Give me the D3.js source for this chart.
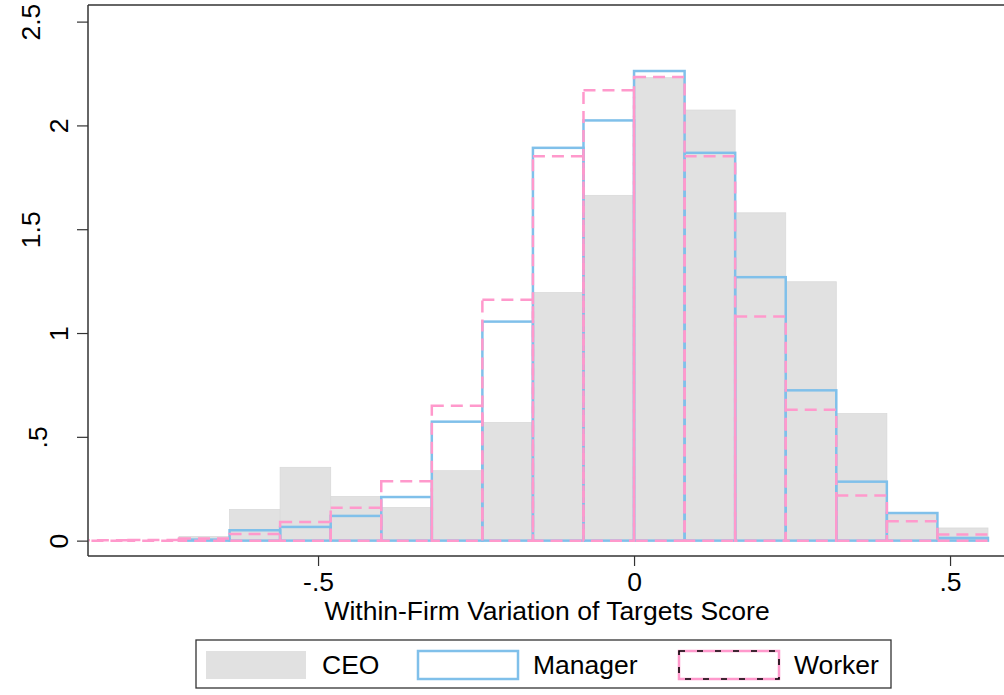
<!DOCTYPE html>
<html>
<head>
<meta charset="utf-8">
<script src="https://cdn.jsdelivr.net/npm/d3@7"></script>
<style>
  html, body { margin: 0; padding: 0; background: #fff; }
  text { font-family: "Liberation Sans", Arial, Helvetica, sans-serif; fill: #000; }
</style>
</head>
<body>
<svg id="chart" width="1004" height="695"></svg>
<script>
// ---- data ----
const binEdges = [-0.88, -0.80, -0.72, -0.64, -0.56, -0.48, -0.40, -0.32, -0.24, -0.16,
                  -0.08, 0.00, 0.08, 0.16, 0.24, 0.32, 0.40, 0.48, 0.56];
const ceoDensity = [0, 0, 0.02, 0.15, 0.353, 0.213, 0.16, 0.337, 0.569, 1.195,
                    1.663, 2.23, 2.074, 1.579, 1.247, 0.612, 0.125, 0.061];
const managerDensity = [0, 0, 0.005, 0.05, 0.066, 0.119, 0.21, 0.573, 1.055, 1.892,
                        2.024, 2.262, 1.868, 1.269, 0.724, 0.284, 0.133, 0.013];
const workerDensity = [0.002, 0.003, 0.01, 0.032, 0.09, 0.158, 0.286, 0.65, 1.16, 1.852,
                       2.169, 2.233, 1.852, 1.08, 0.631, 0.217, 0.093, 0.029];
const xTicks = [-0.5, 0, 0.5];
const xTickLabels = ["-.5", "0", ".5"];
const yTicks = [0, 0.5, 1, 1.5, 2, 2.5];
const yTickLabels = ["0", ".5", "1", "1.5", "2", "2.5"];
const seriesNames = ["CEO", "Manager", "Worker"];
const xTitle = "Within-Firm Variation of Targets Score";

// ---- layout ----
const svg = d3.select("#chart");
const plot = { left: 88, right: 1004, top: 5, bottom: 556 };
const x = d3.scaleLinear().domain([-0.864, 0.5845]).range([plot.left, plot.left + (0.5845 + 0.864) * 632]);
const y = d3.scaleLinear().domain([-0.074, 2.58]).range([plot.bottom, plot.top]);

const colors = { ceo: "#e1e1e1", manager: "#80c0ea", worker: "#ff99cc" };
const fontSize = 26.5;

svg.append("defs").append("clipPath").attr("id", "clip")
  .append("rect").attr("x", plot.left + 1).attr("y", plot.top).attr("width", plot.right - plot.left).attr("height", plot.bottom - plot.top);

function bins(values) {
  return values.map((v, i) => ({ x0: binEdges[i], x1: binEdges[i + 1], v })).filter(d => d.v > 0);
}

const g = svg.append("g").attr("clip-path", "url(#clip)");

g.selectAll("rect.ceo").data(bins(ceoDensity)).join("rect")
  .attr("class", "ceo")
  .attr("x", d => x(d.x0)).attr("width", d => x(d.x1) - x(d.x0))
  .attr("y", d => y(d.v)).attr("height", d => y(0) - y(d.v))
  .attr("fill", colors.ceo).attr("stroke", "#dadada").attr("stroke-width", 0.8);

g.selectAll("rect.mgr").data(bins(managerDensity)).join("rect")
  .attr("class", "mgr")
  .attr("x", d => x(d.x0)).attr("width", d => x(d.x1) - x(d.x0))
  .attr("y", d => y(d.v)).attr("height", d => y(0) - y(d.v))
  .attr("fill", "none").attr("stroke", colors.manager).attr("stroke-width", 2.5);

g.selectAll("rect.wrk").data(bins(workerDensity)).join("rect")
  .attr("class", "wrk")
  .attr("x", d => x(d.x0)).attr("width", d => x(d.x1) - x(d.x0))
  .attr("y", d => y(d.v)).attr("height", d => y(0) - y(d.v))
  .attr("fill", "none").attr("stroke", colors.worker).attr("stroke-width", 2.5)
  .attr("stroke-dasharray", "12,7");

// ---- frame / axes ----
const axisColor = "#333";
svg.append("line").attr("x1", plot.left).attr("x2", plot.right).attr("y1", plot.top).attr("y2", plot.top)
  .attr("stroke", axisColor).attr("stroke-width", 1.5);

const xAxis = d3.axisBottom(x).tickValues(xTicks).tickFormat((d, i) => xTickLabels[i]).tickSize(10).tickPadding(6);
const xg = svg.append("g").attr("transform", `translate(0,${plot.bottom})`).call(xAxis);
xg.select(".domain").attr("d", `M${plot.left},0H${plot.right}`).attr("stroke", axisColor).attr("stroke-width", 1.5);
xg.selectAll(".tick line").attr("stroke", axisColor).attr("stroke-width", 1.2);
xg.selectAll(".tick text").attr("font-size", fontSize).attr("font-family", "Liberation Sans, Arial, sans-serif").attr("fill", "#000");

const yAxis = d3.axisLeft(y).tickValues(yTicks).tickFormat((d, i) => yTickLabels[i]).tickSize(11);
const yg = svg.append("g").attr("transform", `translate(${plot.left},0)`).call(yAxis);
yg.select(".domain").attr("d", `M0,${plot.top}V${plot.bottom}`).attr("stroke", axisColor).attr("stroke-width", 1.5);
yg.selectAll(".tick line").attr("stroke", axisColor).attr("stroke-width", 1.2);
// decimal labels sit further left than integer labels in the reference
const labelShift = d => (d % 1 === 0 ? 0 : (d < 1 ? -21 : -28));
yg.selectAll(".tick text")
  .attr("font-size", fontSize).attr("font-family", "Liberation Sans, Arial, sans-serif").attr("fill", "#000")
  .attr("x", null).attr("dy", null)
  .attr("text-anchor", "middle")
  .attr("transform", d => `translate(${-20 + labelShift(d)},0) rotate(-90)`);

svg.append("text").attr("x", (plot.left + plot.right) / 2 + 1).attr("y", 620)
  .attr("text-anchor", "middle").attr("font-size", fontSize).text(xTitle);

// ---- legend ----
const leg = svg.append("g");
leg.append("rect").attr("x", 196).attr("y", 640).attr("width", 695).attr("height", 48)
  .attr("fill", "#fff").attr("stroke", axisColor).attr("stroke-width", 1.3);
const legItems = [
  { name: seriesNames[0], sx: 206, tx: 322 },
  { name: seriesNames[1], sx: 418, tx: 533 },
  { name: seriesNames[2], sx: 679, tx: 794 }
];
const sw = 100, sh = 28, sy = 651;
leg.append("rect").attr("x", legItems[0].sx).attr("y", sy).attr("width", sw).attr("height", sh).attr("fill", colors.ceo);
leg.append("rect").attr("x", legItems[1].sx).attr("y", sy).attr("width", sw).attr("height", sh)
  .attr("fill", "#fff").attr("stroke", colors.manager).attr("stroke-width", 2.5);
leg.append("rect").attr("x", legItems[2].sx).attr("y", sy).attr("width", sw).attr("height", sh)
  .attr("fill", "#fff").attr("stroke", colors.worker).attr("stroke-width", 2.5);
leg.append("rect").attr("x", legItems[2].sx).attr("y", sy).attr("width", sw).attr("height", sh)
  .attr("fill", "none").attr("stroke", "#000").attr("stroke-width", 1.6).attr("stroke-dasharray", "6,12");
leg.selectAll("text.lt").data(legItems).join("text").attr("class", "lt")
  .attr("x", d => d.tx).attr("y", 674).attr("font-size", fontSize).text(d => d.name);
</script>
</body>
</html>
